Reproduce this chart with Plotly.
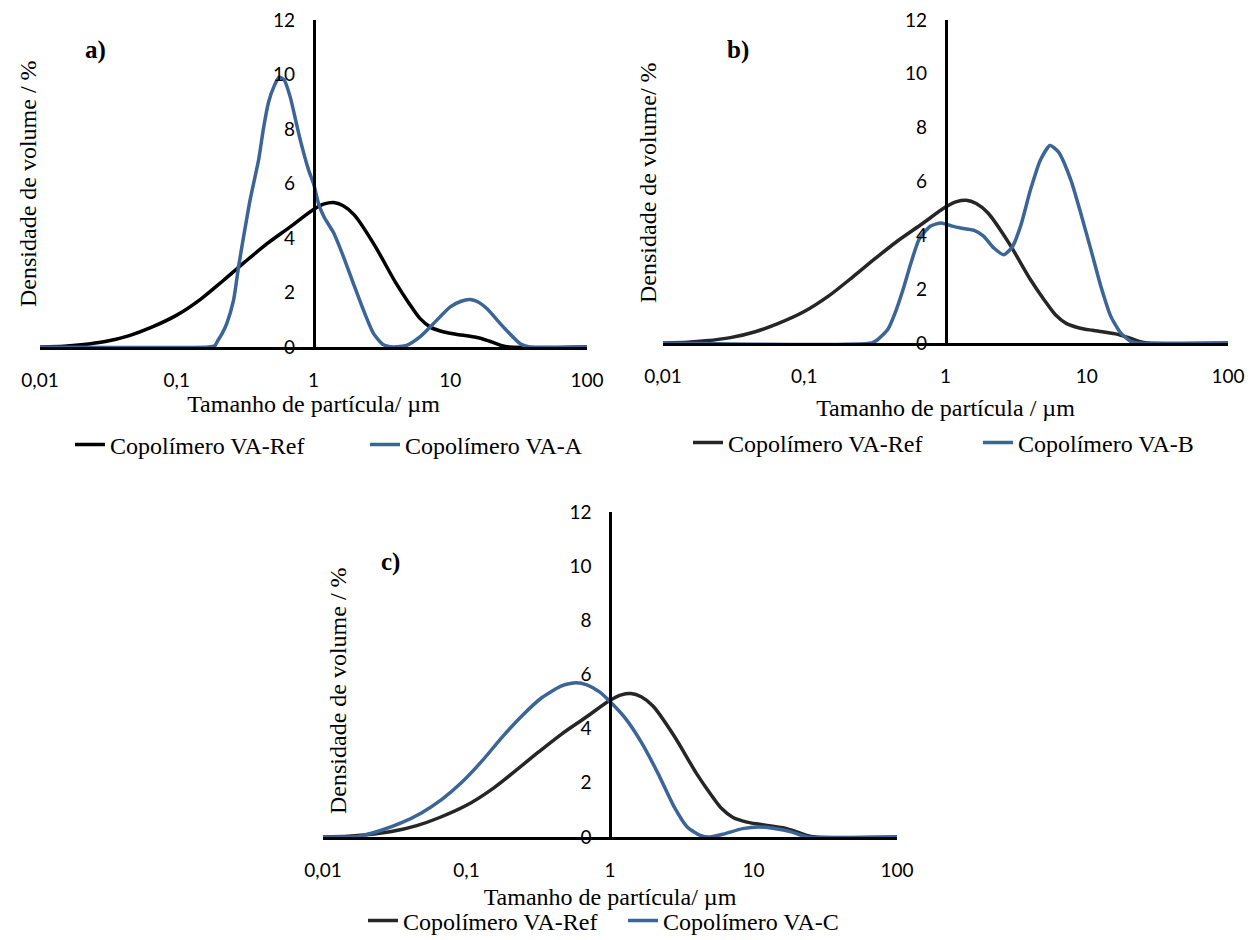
import plotly.graph_objects as go

# ---------------- data ----------------
size_ref = [0.01, 0.015, 0.02, 0.03, 0.045, 0.065, 0.1, 0.15, 0.22, 0.32, 0.46, 0.68,
            1.0, 1.2, 1.4, 1.65, 2.0, 2.8, 4.0, 5.0, 6.0, 7.2, 9, 11, 16, 20, 23.5, 27, 100]
dens_ref = [0, 0.03, 0.08, 0.2, 0.42, 0.72, 1.17, 1.76, 2.45, 3.15, 3.8, 4.42,
            5.05, 5.25, 5.3, 5.18, 4.83, 3.73, 2.35, 1.6, 1.05, 0.72, 0.55, 0.47, 0.34, 0.19,
            0.06, 0, 0]

size_a = [0.01, 0.17, 0.19, 0.2, 0.215, 0.232, 0.26, 0.283, 0.308, 0.344, 0.398, 0.43, 0.47,
          0.518, 0.56, 0.61, 0.676, 0.75, 0.8, 0.92, 1.0, 1.09, 1.2, 1.4, 1.66, 1.96, 2.32,
          2.75, 3.25, 3.85, 4.8, 6.0, 7.55, 10, 12, 14, 16, 18.5, 24.5, 32.5, 38, 100]
dens_a = [0, 0, 0.05, 0.24, 0.5, 0.86, 1.71, 2.94, 4.04, 5.4, 6.9, 8.0, 9.0,
          9.6, 9.9, 9.8, 9.17, 8.2, 7.6, 6.5, 6.0, 5.25, 4.75, 4.2, 3.3, 2.32, 1.35,
          0.49, 0.08, 0, 0.06, 0.37, 0.86, 1.47, 1.68, 1.74, 1.65, 1.41, 0.73, 0.12, 0, 0]

size_b = [0.01, 0.3, 0.33, 0.39, 0.44, 0.5, 0.57, 0.65, 0.78, 0.93, 1.1, 1.28, 1.58, 1.86,
          2.2, 2.59, 2.97, 3.4, 4.0, 4.7, 5.5, 6.3, 7.7, 9.06, 10.7, 12.6, 14.8, 17.4,
          20.5, 23, 100]
dens_b = [0, 0, 0.12, 0.5, 1.12, 1.98, 2.98, 3.85, 4.34, 4.46, 4.35, 4.27, 4.19, 3.97,
          3.53, 3.28, 3.57, 4.34, 5.7, 6.8, 7.34, 7.1, 6.07, 4.83, 3.47, 2.1, 0.99, 0.37,
          0.06, 0, 0]

size_c = [0.01, 0.015, 0.018, 0.0255, 0.035, 0.0485, 0.067, 0.092, 0.128, 0.176, 0.243,
          0.336, 0.46, 0.58, 0.69, 0.85, 1.0, 1.28, 1.67, 2.16, 2.8, 3.45, 4.26, 4.97, 6.1,
          8.4, 10.9, 14, 18.3, 23.7, 100]
dens_c = [0, 0, 0.03, 0.25, 0.52, 0.89, 1.38, 2.0, 2.8, 3.67, 4.47,
          5.15, 5.58, 5.7, 5.62, 5.35, 5.0, 4.38, 3.46, 2.35, 1.11, 0.37, 0.06, 0, 0.1,
          0.31, 0.37, 0.31, 0.19, 0, 0]

x_tickvals = [0.01, 0.1, 1, 10, 100]
x_ticktext = ["0,01", "0,1", "1", "10", "100"]
y_tickvals = [0, 2, 4, 6, 8, 10, 12]

name_ref = "Copolímero VA-Ref"
names = ["Copolímero VA-A", "Copolímero VA-B", "Copolímero VA-C"]
x_titles = ["Tamanho de partícula/ µm", "Tamanho de partícula / µm", "Tamanho de partícula/ µm"]
y_titles = ["Densidade de volume / %", "Densidade de volume/ %", "Densidade de volume / %"]
panel_labels = ["a)", "b)", "c)"]

# ---------------- styling / layout ----------------
W, H = 1258, 940
BLUE = "#3b6597"
REF_COLORS = ["#000000", "#262626", "#262626"]
SERIF = "Liberation Serif, Times New Roman, serif"
SANS = "Lato, Carlito, Calibri, sans-serif"

# pixel boxes of each plot area: (left, right, bottom, top)
boxes = [(40, 587, 347, 20), (663, 1228, 343, 20), (323, 897, 837, 512)]
legend_pos = [(70, 445, 250), (688, 443, 245), (363, 921, 215)]
xtitle_standoff = [6, 14, 9]
ytitle_pos = [(28, 184), (648, 183), (338, 691)]
label_pos = [(95, 50), (738, 50), (390, 562)]

def px(x):
    return x / W

def py(y):
    return (H - y) / H

fig = go.Figure()
series = [(size_a, dens_a), (size_b, dens_b), (size_c, dens_c)]
legend_ids = ["legend", "legend2", "legend3"]

layout = dict(
    width=W, height=H, margin=dict(l=0, r=0, t=0, b=0, autoexpand=False),
    paper_bgcolor="white", plot_bgcolor="white",
    showlegend=True, annotations=[],
)

for i in range(3):
    sfx = "" if i == 0 else str(i + 1)
    xa, ya = "x" + sfx, "y" + sfx
    l, r, b, t = boxes[i]
    sx, sy = series[i]
    fig.add_trace(go.Scatter(
        x=size_ref, y=dens_ref, xaxis=xa, yaxis=ya, mode="lines", name=name_ref,
        legend=legend_ids[i],
        line=dict(color=REF_COLORS[i], width=3.5, shape="spline", smoothing=0.8)))
    fig.add_trace(go.Scatter(
        x=sx, y=sy, xaxis=xa, yaxis=ya, mode="lines", name=names[i],
        legend=legend_ids[i],
        line=dict(color=BLUE, width=3.5, shape="spline", smoothing=0.6)))

    layout["xaxis" + sfx] = dict(
        domain=[px(l), px(r)], anchor=ya, type="log", range=[-2, 2],
        tickvals=x_tickvals, ticktext=x_ticktext, ticks="",
        showline=True, linecolor="black", linewidth=2.5,
        showgrid=False, zeroline=False, automargin=False,
        tickfont=dict(family=SANS, size=19, color="black"),
        ticklabelstandoff=14,
        title=dict(text=x_titles[i], font=dict(family=SERIF, size=24, color="black"),
                   standoff=xtitle_standoff[i]),
    )
    layout["yaxis" + sfx] = dict(
        domain=[py(b), py(t)], anchor="free", position=(px(l) + px(r)) / 2,
        range=[0, 12], tickvals=y_tickvals, ticks="",
        showline=True, linecolor="black", linewidth=2.5,
        showgrid=False, zeroline=False, automargin=False,
        tickfont=dict(family=SANS, size=19, color="black"),
        ticklabelstandoff=14,
    )
    lx, ly, ew = legend_pos[i]
    layout[legend_ids[i]] = dict(
        orientation="h", x=px(lx), y=py(ly), xanchor="left", yanchor="middle",
        font=dict(family=SERIF, size=24, color="black"),
        entrywidth=ew, entrywidthmode="pixels", bgcolor="rgba(0,0,0,0)",
        traceorder="normal",
    )
    tx, ty = ytitle_pos[i]
    layout["annotations"].append(dict(
        text=y_titles[i], x=px(tx), y=py(ty), xref="paper", yref="paper",
        textangle=-90, showarrow=False, xanchor="center", yanchor="middle",
        font=dict(family=SERIF, size=24, color="black")))
    lbx, lby = label_pos[i]
    layout["annotations"].append(dict(
        text="<b>" + panel_labels[i] + "</b>", x=px(lbx), y=py(lby), xref="paper", yref="paper",
        showarrow=False, xanchor="center", yanchor="middle",
        font=dict(family=SERIF, size=25, color="black")))

fig.update_layout(**layout)
fig.write_html("out.html")
